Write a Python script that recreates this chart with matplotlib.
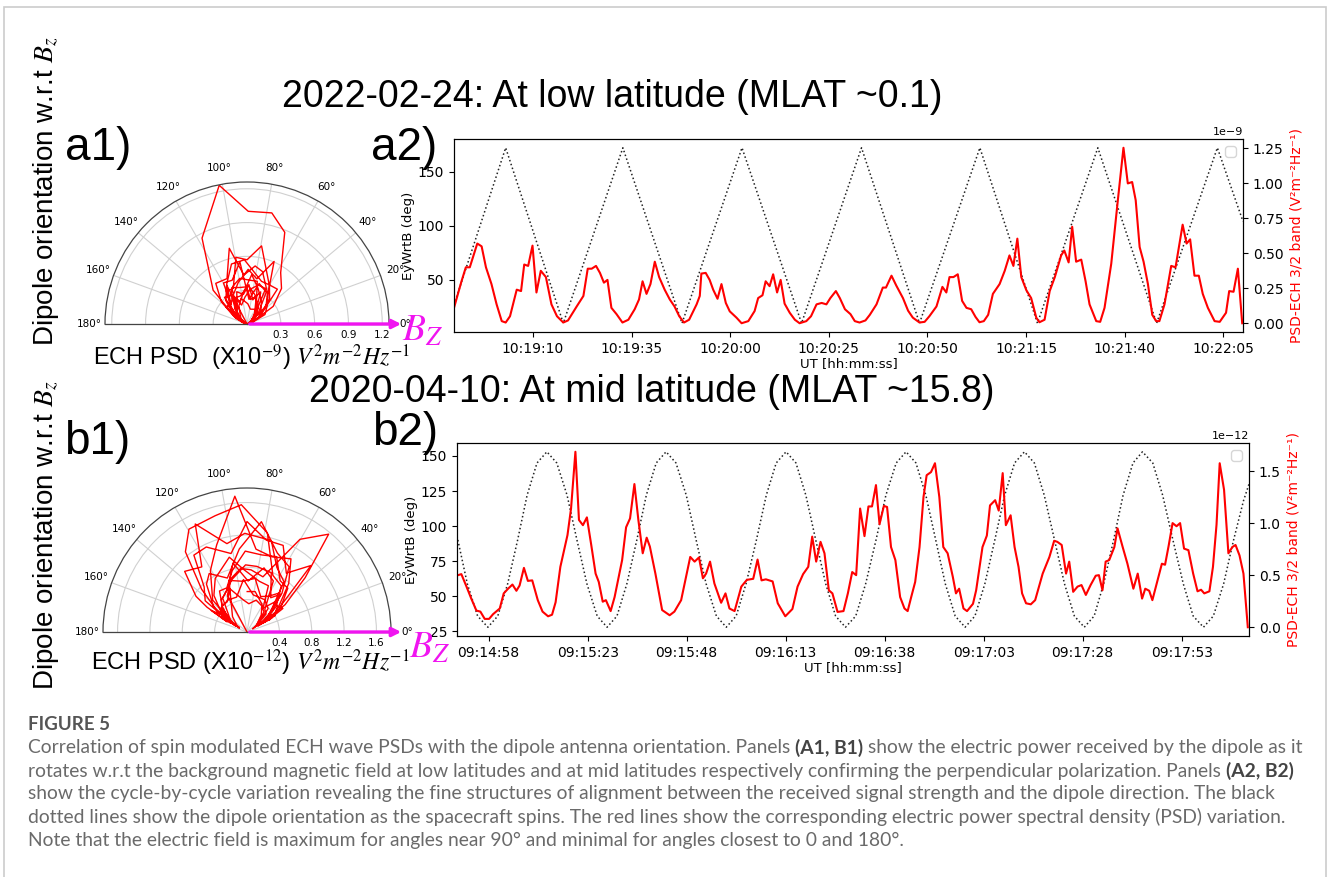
import numpy as np
import matplotlib
matplotlib.use('Agg')
import matplotlib.pyplot as plt
from matplotlib.patches import Rectangle, FancyArrowPatch
from matplotlib.ticker import MultipleLocator, FuncFormatter

plt.rcParams['mathtext.fontset'] = 'stix'

# ---------------- panel a: 2022-02-24, low latitude ----------------
t0_a = 10 * 3600 + 18 * 60 + 50          # 10:18:50 UT, left edge
# dipole angle w.r.t. B (deg), vertices of the black dotted curve
dip_t_a = [0, 13.1, 27.7, 42.8, 57.8, 73.0, 88.1, 103.3, 118.0, 133.3,
           147.9, 163.2, 178.1, 193.5, 200]
dip_a = [27, 172, 10, 172, 10, 172, 10, 172, 10, 172, 10, 172, 10, 172, 104]

# ECH PSD (x1e-9 V^2 m^-2 Hz^-1), red curve
psd_t_a = [0.0, 1.9, 3.0, 4.0, 5.9, 7.0, 8.1, 9.5, 10.8, 12.1, 13.1, 14.2,
           15.9, 17.0, 17.8, 18.8, 19.9, 20.9, 22.0, 23.3, 24.7, 26.1, 27.7,
           28.9, 31.1, 32.8, 33.9, 34.9, 36.0, 37.0, 38.0, 38.9, 39.9, 41.2,
           42.7, 44.2, 45.8, 46.9, 47.8, 48.8, 49.8, 50.9, 52.0, 53.4, 54.7,
           55.9, 57.1, 58.3, 59.6, 61.5, 62.3, 62.7, 63.8, 64.8, 65.7, 66.8,
           67.8, 68.9, 69.9, 71.6, 72.9, 74.6, 76.2, 77.1, 78.2, 79.0, 80.0,
           80.9, 81.9, 82.8, 83.8, 85.1, 86.4, 87.6, 89.3, 90.5, 91.9, 93.2,
           94.4, 95.4, 96.8, 97.8, 99.1, 100.5, 101.6, 102.8, 104.3, 105.4,
           107.1, 108.7, 109.5, 110.9, 112.1, 113.8, 115.1, 116.3, 118.0,
           119.3, 120.5, 122.3, 123.8, 124.8, 125.6, 126.6, 127.7, 128.8,
           129.9, 131.1, 132.2, 133.2, 134.3, 135.4, 136.6, 138.3, 139.6,
           140.8, 141.8, 142.8, 143.8, 145.1, 146.3, 147.6, 148.4, 149.7,
           151.0, 152.3, 153.9, 154.7, 155.8, 156.7, 157.7, 159.0, 160.1,
           161.1, 162.8, 163.8, 164.9, 166.6, 168.2, 169.7, 170.8, 171.9,
           172.8, 173.8, 174.8, 175.9, 177.0, 178.0, 178.8, 180.1, 181.8,
           182.9, 184.7, 185.7, 186.6, 187.7, 188.8, 189.8, 191.1, 192.8,
           194.1, 195.7, 196.5, 197.6, 198.7, 199.8]
psd_a = [0.11, 0.30, 0.40, 0.40, 0.57, 0.55, 0.40, 0.28, 0.135, 0.015, 0.005,
         0.05, 0.24, 0.23, 0.42, 0.41, 0.555, 0.22, 0.375, 0.33, 0.135, 0.05,
         0.005, 0.02, 0.12, 0.195, 0.39, 0.39, 0.41, 0.36, 0.29, 0.31, 0.11,
         0.065, 0.005, 0.025, 0.10, 0.17, 0.30, 0.21, 0.28, 0.44, 0.33, 0.24,
         0.17, 0.12, 0.05, 0.005, 0.025, 0.135, 0.195, 0.355, 0.36, 0.31,
         0.24, 0.175, 0.28, 0.145, 0.085, 0.04, 0.0, 0.015, 0.087, 0.18, 0.20,
         0.30, 0.265, 0.35, 0.22, 0.31, 0.14, 0.075, 0.025, 0.0, 0.015, 0.05,
         0.135, 0.145, 0.135, 0.18, 0.23, 0.18, 0.10, 0.065, 0.015, 0.005,
         0.02, 0.06, 0.135, 0.255, 0.255, 0.34, 0.27, 0.18, 0.09, 0.04, 0.005,
         0.01, 0.05, 0.12, 0.26, 0.22, 0.33, 0.33, 0.35, 0.16, 0.11, 0.10,
         0.045, 0.007, 0.015, 0.06, 0.21, 0.28, 0.375, 0.485, 0.41, 0.605,
         0.33, 0.235, 0.18, 0.04, 0.007, 0.025, 0.23, 0.33, 0.485, 0.52,
         0.435, 0.69, 0.44, 0.455, 0.30, 0.135, 0.015, 0.01, 0.11, 0.425,
         0.86, 1.255, 1.00, 1.01, 0.88, 0.545, 0.44, 0.28, 0.06, 0.015, 0.015,
         0.135, 0.41, 0.40, 0.705, 0.57, 0.60, 0.34, 0.34, 0.21, 0.11, 0.015,
         0.01, 0.075, 0.23, 0.225, 0.39, 0.0]

# ---------------- panel b: 2020-04-10, mid latitude ----------------
t0_b = 9 * 3600 + 14 * 60 + 50           # 09:14:50 UT, left edge
dip_t_b = [0, 2.6, 5.2, 7.8, 10.3, 12.8, 15.3, 17.7, 20.2, 22.7, 25.2, 27.8,
           30.3, 32.8, 35.4, 37.9, 40.4, 42.9, 45.4, 47.8, 50.3, 52.8, 55.3,
           57.9, 60.4, 62.9, 65.5, 68.0, 70.5, 73.0, 75.6, 78.1, 80.6, 83.1,
           85.6, 88.1, 90.6, 93.1, 95.6, 98.1, 100.7, 103.2, 105.8, 108.3,
           110.9, 113.4, 115.9, 118.4, 120.9, 123.3, 125.8, 128.3, 130.8,
           133.3, 135.8, 138.3, 140.8, 143.3, 145.8, 148.3, 150.9, 153.4,
           155.9, 158.4, 160.9, 163.3, 165.8, 168.2, 170.7, 173.1, 175.7,
           178.2, 180.8, 183.4, 185.9, 188.5, 191.0, 193.6, 196.1, 198.6, 200]
dip_b = [93, 59, 36, 28, 36, 59, 90, 122, 145, 153, 145, 122, 90, 59, 36, 28,
         36, 59, 90, 122, 145, 153, 145, 122, 90, 59, 36, 28, 36, 59, 90, 122,
         145, 153, 145, 122, 90, 59, 36, 28, 36, 59, 90, 122, 145, 153, 145,
         122, 90, 59, 36, 28, 36, 59, 90, 122, 145, 153, 145, 122, 90, 59, 36,
         28, 36, 59, 90, 122, 145, 153, 145, 122, 90, 59, 36, 28, 36, 59, 90,
         118, 130]

# ECH PSD (x1e-12 V^2 m^-2 Hz^-1)
psd_t_b = [0.25, 1.1, 2.4, 3.6, 4.9, 5.9, 7.0, 8.1, 9.1, 10.8, 11.8, 12.9,
           14.0, 15.0, 15.8, 16.9, 17.9, 19.0, 20.4, 21.6, 23.0, 24.0, 24.9,
           26.1, 27.9, 28.8, 29.9, 30.8, 31.8, 32.8, 33.9, 35.0, 35.8, 36.8,
           37.6, 38.8, 39.8, 41.7, 42.7, 43.7, 44.8, 45.8, 46.9, 47.9, 48.7,
           50.1, 51.8, 53.7, 54.9, 56.6, 58.9, 60.0, 61.1, 62.1, 62.9, 63.9,
           65.0, 66.7, 67.8, 68.8, 70.1, 71.8, 73.2, 74.8, 75.9, 76.9, 78.0,
           79.7, 81.0, 82.9, 84.7, 86.0, 87.4, 88.7, 89.7, 90.7, 91.8, 92.8,
           93.9, 94.8, 96.1, 97.6, 98.7, 99.8, 100.8, 101.8, 102.9, 103.9,
           104.8, 105.8, 106.7, 107.8, 108.6, 109.6, 110.7, 111.9, 113.0,
           113.8, 114.7, 115.7, 116.8, 117.8, 118.6, 119.7, 120.7, 121.8,
           122.8, 123.9, 125.2, 126.0, 126.8, 127.9, 128.8, 130.3, 131.1,
           132.7, 133.8, 134.6, 135.9, 136.8, 137.8, 138.6, 139.8, 140.8,
           141.8, 142.7, 143.7, 144.9, 146.0, 147.9, 149.6, 150.8, 151.6,
           152.7, 153.8, 154.6, 155.6, 156.7, 157.7, 158.8, 160.0, 161.3,
           162.1, 163.0, 163.8, 164.7, 166.0, 166.8, 168.1, 169.3, 170.8,
           171.9, 173.0, 173.8, 174.8, 175.6, 176.7, 178.0, 178.8, 179.7,
           180.7, 181.7, 182.6, 183.6, 184.7, 185.9, 187.0, 187.9, 188.7,
           190.0, 190.9, 191.8, 192.6, 193.7, 194.8, 195.8, 196.6, 197.6,
           198.6, 199.7]
psd_b = [0.50, 0.51, 0.39, 0.275, 0.16, 0.15, 0.08, 0.08, 0.125, 0.18, 0.325,
         0.37, 0.41, 0.35, 0.40, 0.57, 0.445, 0.45, 0.26, 0.15, 0.105, 0.12,
         0.24, 0.58, 0.885, 1.14, 1.685, 1.03, 0.98, 1.055, 0.79, 0.515,
         0.435, 0.245, 0.26, 0.155, 0.29, 0.645, 0.96, 1.045, 1.375, 1.03,
         0.71, 0.86, 0.775, 0.515, 0.165, 0.115, 0.15, 0.26, 0.675, 0.63,
         0.67, 0.47, 0.515, 0.63, 0.42, 0.235, 0.325, 0.18, 0.155, 0.39,
         0.455, 0.465, 0.65, 0.45, 0.46, 0.44, 0.23, 0.105, 0.175, 0.39, 0.51,
         0.58, 0.87, 0.63, 0.82, 0.71, 0.355, 0.325, 0.147, 0.155, 0.325,
         0.53, 0.50, 1.14, 0.875, 1.16, 1.16, 1.365, 0.99, 1.165, 1.155, 0.77,
         0.645, 0.29, 0.18, 0.155, 0.29, 0.435, 0.77, 1.25, 1.46, 1.49, 1.575,
         1.25, 0.77, 0.71, 0.485, 0.325, 0.37, 0.18, 0.155, 0.225, 0.355,
         0.77, 0.88, 1.17, 1.22, 1.12, 1.48, 0.98, 1.075, 0.77, 0.58, 0.325,
         0.23, 0.22, 0.26, 0.515, 0.675, 0.83, 0.82, 0.79, 0.515, 0.63, 0.34,
         0.39, 0.405, 0.31, 0.405, 0.495, 0.50, 0.355, 0.63, 0.645, 0.77,
         0.95, 0.77, 0.61, 0.37, 0.515, 0.275, 0.37, 0.35, 0.26, 0.42, 0.61,
         0.60, 0.78, 1.0, 0.97, 1.0, 0.755, 0.74, 0.515, 0.345, 0.36, 0.325,
         0.345, 0.58, 0.985, 1.575, 1.32, 0.71, 0.77, 0.79, 0.69, 0.515, 0.0]

titles = ['2022-02-24: At low latitude (MLAT ~0.1)',
          '2020-04-10: At mid latitude (MLAT ~15.8)']
psd_units = ['ECH PSD  (X10$^{-9}$) $V^2m^{-2}Hz^{-1}$',
             'ECH PSD (X10$^{-12}$) $V^2m^{-2}Hz^{-1}$']

W, H = 1328, 877
fig = plt.figure(figsize=(W / 100, H / 100), dpi=100)


def fx(px):
    return px / W


def fy(py):
    return 1 - py / H


def hms(x, pos=None):
    s = int(round(x)) % 86400
    return f'{s // 3600:02d}:{s % 3600 // 60:02d}:{s % 60:02d}'


MAG = '#f014f0'


def time_panel(rect, t0, dt, dv, pt, pv, scale, step, first_tick):
    ax = fig.add_axes(rect)
    ax.plot(t0 + np.array(dt), dv, color='#222222', ls=':', lw=1.1)
    ax.set_ylabel('EyWrtB (deg)', fontsize=9.5, labelpad=2)
    ax.yaxis.set_major_locator(MultipleLocator(step))
    ax.set_xlim(t0, t0 + 200)
    ax.set_xticks(t0 + np.arange(first_tick, 200, 25))
    ax.xaxis.set_major_formatter(FuncFormatter(hms))
    ax.set_xlabel('UT [hh:mm:ss]', fontsize=9.5, labelpad=1)
    ax.tick_params(labelsize=10)
    ax2 = ax.twinx()
    ax2.plot(t0 + np.array(pt), np.array(pv) * scale, color='red', lw=1.5)
    ax2.set_ylabel('PSD-ECH 3/2 band (V\u00b2m\u207b\u00b2Hz\u207b\u00b9)',
                   color='red', fontsize=10, labelpad=4)
    ax2.tick_params(labelsize=10)
    ax2.yaxis.get_offset_text().set_fontsize(8)
    ax2.legend(handles=[], loc='upper right')   # empty legend box
    return ax


def polar_panel(cx, cy, R, dt, dv, pt, pv, rmax, rticks):
    # half-disc is fitted into a square box and centred vertically in it
    axp = fig.add_axes([fx(cx - R), fy(cy + R / 2), 2 * R / W, 2 * R / H],
                       projection='polar')
    theta = np.deg2rad(np.interp(pt, dt, dv))
    axp.plot(theta, pv, color='red', lw=1.0)
    axp.set_thetamin(0)
    axp.set_thetamax(180)
    axp.set_rmax(rmax)
    axp.set_rticks(rticks)
    axp.set_thetagrids(range(0, 181, 20))
    axp.tick_params(labelsize=7.5, pad=1)
    axp.grid(color='#d0d0d0', lw=0.8)
    for s in axp.spines.values():
        s.set_color('#444444')
        s.set_linewidth(0.9)
    arr = FancyArrowPatch((fx(cx), fy(cy)), (fx(cx + 157), fy(cy)),
                          transform=fig.transFigure, arrowstyle='-|>',
                          mutation_scale=13, lw=2.4, color=MAG)
    fig.add_artist(arr)
    return axp


# panel a
time_panel([fx(454), fy(332), (1243 - 454) / W, (332 - 139) / H],
           t0_a, dip_t_a, dip_a, psd_t_a, psd_a, 1e-9, 50, 20)
polar_panel(247, 324, 142, dip_t_a, dip_a, psd_t_a, psd_a, 1.26,
            [0.3, 0.6, 0.9, 1.2])
# panel b
time_panel([fx(457), fy(636), (1249 - 457) / W, (636 - 443) / H],
           t0_b, dip_t_b, dip_b, psd_t_b, psd_b, 1e-12, 25, 8)
polar_panel(247, 632, 144, dip_t_b, dip_b, psd_t_b, psd_b, 1.78,
            [0.4, 0.8, 1.2, 1.6])

sans = ['Liberation Sans', 'DejaVu Sans']
fig.text(fx(612), fy(97), titles[0], fontsize=27, family=sans,
         ha='center', va='center')
fig.text(fx(652), fy(392), titles[1], fontsize=27, family=sans,
         ha='center', va='center')
for lab, (px, py) in zip(['a1)', 'a2)', 'b1)', 'b2)'],
                         [(98, 148), (404, 148), (97, 442), (405, 433)]):
    fig.text(fx(px), fy(py), lab, fontsize=33, family=sans,
             ha='center', va='center')
for py in (191, 535):
    fig.text(fx(46), fy(py), 'Dipole orientation w.r.t $B_z$', fontsize=20,
             family=sans, rotation=90, ha='center', va='center')
fig.text(fx(251), fy(358), psd_units[0], fontsize=17, family=sans,
         ha='center', va='center')
fig.text(fx(250), fy(663), psd_units[1], fontsize=17, family=sans,
         ha='center', va='center')
fig.text(fx(423), fy(331), '$B_Z$', fontsize=27, color=MAG,
         ha='center', va='center')
fig.text(fx(430), fy(648), '$B_Z$', fontsize=27, color=MAG,
         ha='center', va='center')

# outer frame of the figure block
fig.add_artist(Rectangle((fx(4), -0.01), 1322 / W, (877 - 7) / H + 0.01,
                         transform=fig.transFigure, fill=False,
                         ec='#cccccc', lw=1.2))

# caption
cap_font = ['Lato', 'DejaVu Sans']
caption = [
    [('Correlation of spin modulated ECH wave PSDs with the dipole antenna '
      'orientation. Panels', False), ('(A1, B1)', True),
     ('show the electric power received by the dipole as it', False)],
    [('rotates w.r.t the background magnetic field at low latitudes and at '
      'mid latitudes respectively confirming the perpendicular '
      'polarization. Panels', False), ('(A2, B2)', True)],
    [('show the cycle-by-cycle variation revealing the fine structures of '
      'alignment between the received signal strength and the dipole '
      'direction. The black', False)],
    [('dotted lines show the dipole orientation as the spacecraft spins. The '
      'red lines show the corresponding electric power spectral density '
      '(PSD) variation.', False)],
    [('Note that the electric field is maximum for angles near 90\u00b0 and '
      'minimal for angles closest to 0 and 180\u00b0.', False)],
]
renderer = fig.canvas.get_renderer()
fig.text(fx(28), fy(725), 'FIGURE 5', fontsize=13.5, family=cap_font,
         weight='bold', color='#555555', va='center')
cap_fs = 13.9
probe = fig.text(0, 0, 'x x', fontsize=cap_fs, family=cap_font)
w2 = probe.get_window_extent(renderer).width
probe.set_text('xx')
space_w = w2 - probe.get_window_extent(renderer).width
probe.remove()
for i, line in enumerate(caption):
    x = 28
    for txt, bold in line:
        t = fig.text(fx(x), fy(748 + 23 * i), txt, fontsize=cap_fs,
                     family=cap_font, weight='bold' if bold else 'normal',
                     color='#444444' if bold else '#6a6a6a', va='center')
        x += t.get_window_extent(renderer).width + space_w

fig.savefig('out.png', dpi=100)
